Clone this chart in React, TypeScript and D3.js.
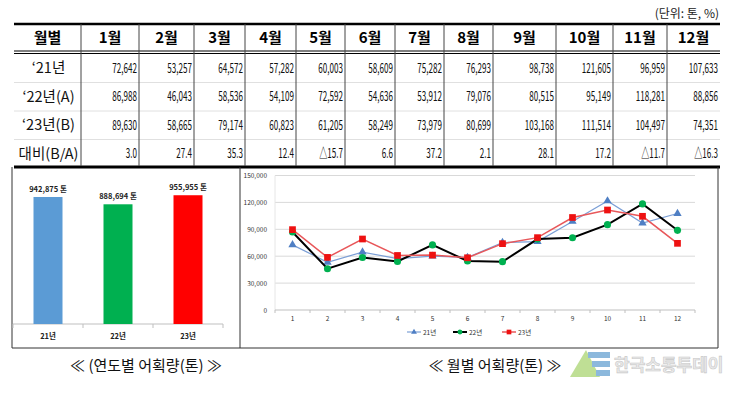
import * as d3 from "d3";

const months = ["1월", "2월", "3월", "4월", "5월", "6월", "7월", "8월", "9월", "10월", "11월", "12월"];
const monthTicks = ["1", "2", "3", "4", "5", "6", "7", "8", "9", "10", "11", "12"];
const catch21 = [72642, 53257, 64572, 57282, 60003, 58609, 75282, 76293, 98738, 121605, 96959, 107633];
const catch22 = [86988, 46043, 58536, 54109, 72592, 54636, 53912, 79076, 80515, 95149, 118281, 88856];
const catch23 = [89630, 58665, 79174, 60823, 61205, 58249, 73979, 80699, 103168, 111514, 104497, 74351];
const changeBA = [3.0, 27.4, 35.3, 12.4, -15.7, 6.6, 37.2, 2.1, 28.1, 17.2, -11.7, -16.3];
const rowLabels = ["‘21년", "‘22년(A)", "‘23년(B)", "대비(B/A)"];

const years = ["21년", "22년", "23년"];
const yearTotals = [942875, 888694, 955955];
const yearColors = ["#5b9bd5", "#00b050", "#ff0000"];
const yTicks = [0, 30000, 60000, 90000, 120000, 150000];

const FONT = "'Noto Sans CJK KR', 'Noto Sans', sans-serif";
const fmt = d3.format(",");

// table column edges
const colX = [14, 81, 139, 194, 245, 296, 345, 395, 444, 493, 556, 613, 667, 720];
const headTop = 24;
const headBot = 52;
const rowH = 28.5;

function Table() {
  const rows = [catch21, catch22, catch23];
  return (
    <g fontFamily={FONT}>
      <text x={719} y={18} fontSize={12} textAnchor="end" fill="#222">(단위: 톤, %)</text>
      <line x1={14} x2={720} y1={headTop} y2={headTop} stroke="#000" strokeWidth={2.5} />
      <line x1={14} x2={720} y1={headBot - 1} y2={headBot - 1} stroke="#000" strokeWidth={1} />
      <line x1={14} x2={720} y1={headBot + 1.5} y2={headBot + 1.5} stroke="#000" strokeWidth={1} />
      {[1, 2, 3].map((i) => (
        <line key={i} x1={14} x2={720} y1={headBot + 2 + rowH * i} y2={headBot + 2 + rowH * i} stroke="#d8d8d8" strokeWidth={0.8} />
      ))}
      <line x1={14} x2={720} y1={167} y2={167} stroke="#000" strokeWidth={3} />
      {colX.slice(1, -1).map((x) => (
        <line key={x} x1={x} x2={x} y1={headTop} y2={166} stroke="#444" strokeWidth={1} />
      ))}
      <text x={(colX[0] + colX[1]) / 2} y={43} fontSize={15} fontWeight="bold" textAnchor="middle">월별</text>
      {months.map((m, i) => (
        <text key={m} x={(colX[i + 1] + colX[i + 2]) / 2} y={43} fontSize={15} fontWeight="bold" textAnchor="middle">{m}</text>
      ))}
      {rowLabels.map((r, j) => (
        <text key={r} x={(colX[0] + colX[1]) / 2 + 1} y={headBot + 2 + rowH * j + 19} fontSize={14.5} textAnchor="middle" fill="#111">{r}</text>
      ))}
      {rows.map((vals, j) =>
        vals.map((v, i) => (
          <text key={`${j}-${i}`} transform={`translate(${colX[i + 2] - 2},${headBot + 2 + rowH * j + 18.5}) scale(0.6,1)`}
            fontSize={13.5} textAnchor="end" fill="#111">{fmt(v)}</text>
        ))
      )}
      {changeBA.map((v, i) => (
        <text key={`c${i}`} transform={`translate(${colX[i + 2] - 2},${headBot + 2 + rowH * 3 + 18.5}) scale(0.6,1)`}
          fontSize={13.5} textAnchor="end" fill="#111">{(v < 0 ? "△" : "") + Math.abs(v).toFixed(1)}</text>
      ))}
    </g>
  );
}

function BarPanel() {
  const x = d3.scaleBand().domain(years).range([13, 223]);
  const y = d3.scaleLinear().domain([0, 1000000]).range([324, 189.3]);
  const bw = 29;
  return (
    <g fontFamily={FONT}>
      <line x1={13} x2={223} y1={y(0)} y2={y(0)} stroke="#bfbfbf" />
      {[...years.map((d) => x(d)!), 223].map((t, i) => (
        <line key={i} x1={t} x2={t} y1={y(0)} y2={y(0) + 4} stroke="#bfbfbf" />
      ))}
      {years.map((d, i) => {
        const cx = x(d)! + x.bandwidth() / 2;
        return (
          <g key={d}>
            <rect x={cx - bw / 2} y={y(yearTotals[i])} width={bw} height={y(0) - y(yearTotals[i])} fill={yearColors[i]} />
            <text x={cx} y={y(yearTotals[i]) - 5} fontSize={7.5} fontWeight="bold" textAnchor="middle" fill="#222">{fmt(yearTotals[i])} 톤</text>
            <text x={cx} y={339} fontSize={7.5} fontWeight="bold" textAnchor="middle" fill="#222">{d}</text>
          </g>
        );
      })}
    </g>
  );
}

function LinePanel() {
  const x = d3.scalePoint().domain(monthTicks).range([275, 695]).padding(0.5);
  const y = d3.scaleLinear().domain([0, 150000]).range([310, 175.5]);
  const step = x.step();
  const line = d3.line<number>().x((_, i) => x(monthTicks[i])!).y((v) => y(v));
  const tri = d3.symbol(d3.symbolTriangle, 30)()!;
  const circ = d3.symbol(d3.symbolCircle, 40)()!;
  const sq = d3.symbol(d3.symbolSquare, 45)()!;
  const series = [
    { name: "21년", data: catch21, stroke: "#7b9fd6", width: 1.2, marker: tri, fill: "#4f7fc4" },
    { name: "22년", data: catch22, stroke: "#000", width: 2, marker: circ, fill: "#00b050" },
    { name: "23년", data: catch23, stroke: "#e8575a", width: 1.5, marker: sq, fill: "#ee1111" },
  ];
  const legendX = [407, 453, 502];
  return (
    <g fontFamily={FONT}>
      {yTicks.map((t) => (
        <g key={t}>
          {t > 0 && <line x1={275} x2={695} y1={y(t)} y2={y(t)} stroke="#d9d9d9" />}
          <text x={267} y={y(t) + 2.5} fontSize={6.5} textAnchor="end" fill="#333">{fmt(t)}</text>
        </g>
      ))}
      <line x1={275} x2={275} y1={y(150000)} y2={y(0)} stroke="#e6e6e6" />
      <line x1={275} x2={695} y1={y(0)} y2={y(0)} stroke="#bfbfbf" />
      {d3.range(13).map((i) => (
        <line key={i} x1={275 + step * i} x2={275 + step * i} y1={y(0)} y2={y(0) + 3} stroke="#bfbfbf" />
      ))}
      {monthTicks.map((m) => (
        <text key={m} x={x(m)} y={321} fontSize={6.5} textAnchor="middle" fill="#333">{m}</text>
      ))}
      {series.map((s) => (
        <g key={s.name}>
          <path d={line(s.data)!} fill="none" stroke={s.stroke} strokeWidth={s.width} />
          {s.data.map((v, i) => (
            <path key={i} d={s.marker} transform={`translate(${x(monthTicks[i])},${y(v)})`} fill={s.fill} />
          ))}
        </g>
      ))}
      {series.map((s, i) => (
        <g key={`l${i}`} transform={`translate(${legendX[i]},332)`}>
          <line x1={0} x2={14} y1={0} y2={0} stroke={s.stroke} strokeWidth={s.width} />
          <path d={s.marker} transform="translate(7,0) scale(0.7)" fill={s.fill} />
          <text x={16} y={2.5} fontSize={6.5} fill="#333">{s.name}</text>
        </g>
      ))}
    </g>
  );
}

export default function App() {
  return (
    <svg width={731} height={393} style={{ position: "absolute", left: 0, top: 0, background: "#fff" }}>
      <rect width={731} height={393} fill="#fff" />
      <Table />
      <line x1={12} x2={12} y1={167} y2={348} stroke="#333" />
      <line x1={240} x2={240} y1={167} y2={348} stroke="#333" />
      <line x1={718} x2={718} y1={167} y2={348} stroke="#333" />
      <line x1={12} x2={718} y1={348} y2={348} stroke="#333" />
      <BarPanel />
      <LinePanel />
      <g fontFamily={FONT} fontSize={15} fill="#111">
        <text x={146} y={371} textAnchor="middle">≪ (연도별 어획량(톤) ≫</text>
        <text x={495} y={371} textAnchor="middle">≪ 월별 어획량(톤) ≫</text>
      </g>
      <g opacity={0.55}>
        <path d="M570,377 L586,350 L600,377 Z" fill="#8cc63f" />
        <rect x={588} y={352} width={22} height={6} fill="#2f7fc1" />
        <rect x={592} y={361} width={18} height={6} fill="#2f7fc1" />
        <rect x={596} y={370} width={14} height={6} fill="#2f7fc1" />
        <text x={614} y={371} fontFamily={FONT} fontSize={17} fontWeight="bold" fill="#d8d8d8" stroke="#9a9a9a" strokeWidth={0.6}>한국소통투데이</text>
      </g>
    </svg>
  );
}
